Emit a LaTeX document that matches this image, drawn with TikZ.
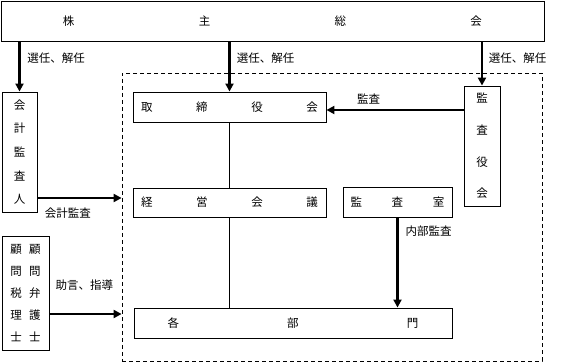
\documentclass[tikz,border=0pt]{standalone}
\usepackage{fontspec}
\setmainfont{Noto Sans CJK JP}
\usetikzlibrary{arrows.meta, positioning}
\newcommand{\spreadtxt}[2]{\makebox[#1][s]{#2}}

\begin{document}
\begin{tikzpicture}[
  x=1pt, y=-1pt,
  font=\fontsize{11.5}{13}\selectfont,
  box/.style={draw, line width=0.9pt, inner sep=0pt, minimum height=30pt},
  vbox/.style={draw, line width=0.9pt, inner sep=0pt, align=center},
  grp/.style={draw, line width=0.8pt, dash pattern=on 4pt off 3pt, inner sep=0pt},
  arr/.style={-{Triangle[length=8pt, width=8pt]}, line width=2.2pt},
  conn/.style={line width=0.7pt},
  lbl/.style={inner sep=1pt},
]
\useasboundingbox (0,0) rectangle (574,363);

% ---- shareholders
\node[box, minimum width=543pt, minimum height=40pt] (kabu) at (272.5,21) {\spreadtxt{419pt}{株\hfill 主\hfill 総\hfill 会}};

% ---- company (dashed)
\node[grp, minimum width=420pt, minimum height=288pt] (grp) at (332,217) {};
\node[box, minimum width=193pt] (tori) at (229.5,107) {\spreadtxt{177pt}{取\hfill 締\hfill 役\hfill 会}};
\node[box, minimum width=193pt, minimum height=29pt] (keiei) at (229.5,202.5) {\spreadtxt{177pt}{経\hfill 営\hfill 会\hfill 議}};
\node[box, minimum width=109pt] (kansa) at (397.5,202.5) {\spreadtxt{94pt}{監\hfill 査\hfill 室}};
\node[box, minimum width=318pt] (bumon) at (293,323) {\spreadtxt{251pt}{各\hfill 部\hfill 門}};
\node[vbox, minimum width=36pt, minimum height=120pt, font=\fontsize{11.5}{31.7}\selectfont] (kansayaku) at (482,146) {監\\査\\役\\会};

% ---- outside
\node[vbox, minimum width=35pt, minimum height=120pt, font=\fontsize{11.5}{23.7}\selectfont] (kaikei) at (19.5,152) {会\\計\\監\\査\\人};
\node[vbox, minimum width=47pt, minimum height=114pt, font=\fontsize{11.5}{22}\selectfont] (komon) at (25.5,293) {顧\hspace{7.5pt}顧\\問\hspace{7.5pt}問\\税\hspace{7.5pt}弁\\理\hspace{7.5pt}護\\士\hspace{7.5pt}士};

% ---- arrows
\draw[arr] (kabu.south -| kaikei.north) -- (kaikei.north);
\draw[arr] (kabu.south -| tori.north) -- (tori.north);
\draw[arr] (kabu.south -| kansayaku.north) -- (kansayaku.north);
\draw[arr] ([yshift=-3pt]kansayaku.west |- tori.east) -- ([yshift=-3pt]tori.east);
\draw[arr] ([yshift=-46pt]kaikei.east) -- ([yshift=-46pt]kaikei.east -| grp.west);
\draw[arr] ([yshift=-21pt]komon.east) -- ([yshift=-21pt]komon.east -| grp.west);
\draw[arr] (kansa.south) -- (kansa.south |- bumon.north);
\draw[conn] (tori.south) -- (keiei.north);
\draw[conn] (keiei.south) -- (keiei.south |- bumon.north);

% ---- labels
\node[lbl] (l1) at (56,58) {選任、解任};
\node[lbl] (l2) at (265.5,58) {選任、解任};
\node[lbl] (l3) at (517.5,58) {選任、解任};
\node[lbl] (l4) at (368.5,99) {監査};
\node[lbl] (l5) at (68,213) {会計監査};
\node[lbl] (l6) at (84.5,285) {助言、指導};
\node[lbl] (l7) at (428.5,231) {内部監査};
\end{tikzpicture}
\end{document}
